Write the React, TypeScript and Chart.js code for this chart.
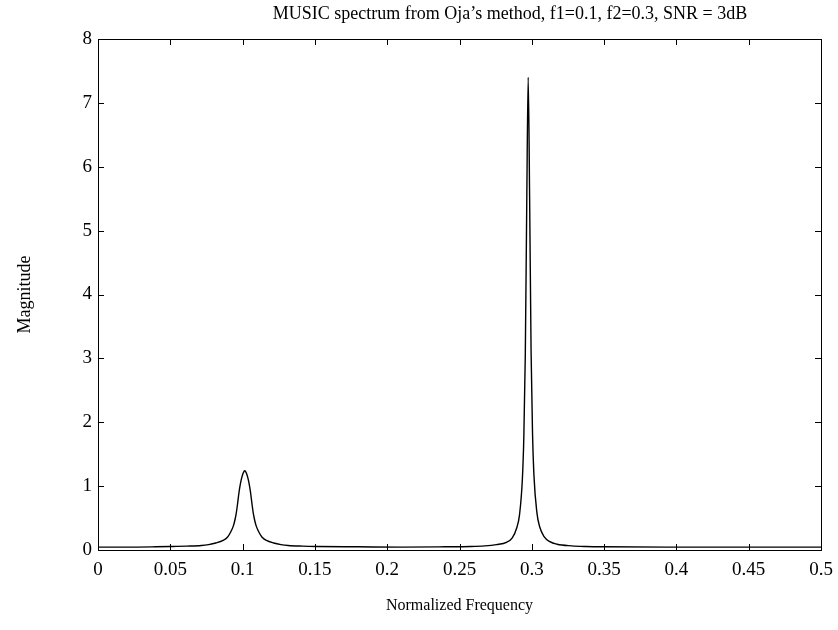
import React, { useEffect, useRef } from "react";
import { Chart, registerables } from "chart.js";

Chart.register(...registerables);

const TITLE = "MUSIC spectrum from Oja\u2019s method, f1=0.1, f2=0.3, SNR = 3dB";
const X_TITLE = "Normalized Frequency";
const Y_TITLE = "Magnitude";

const freq = [
  0, 0.02, 0.04, 0.0515, 0.0615, 0.0715, 0.0765, 0.0815, 0.0865, 0.0895, 0.0915, 0.0935, 0.0945,
  0.0955, 0.0965, 0.0975, 0.0985, 0.0995, 0.1005, 0.1015, 0.1025, 0.1035, 0.1045, 0.1055, 0.1065,
  0.1075, 0.1085, 0.1095, 0.1115, 0.1135, 0.1165, 0.1215, 0.1265, 0.1315, 0.1415, 0.1515, 0.18,
  0.21, 0.24, 0.2575, 0.2675, 0.2755, 0.2825, 0.2865, 0.2895, 0.2915, 0.2935, 0.2945, 0.2955,
  0.2965, 0.2975, 0.2985, 0.2995, 0.3005, 0.3015, 0.3035, 0.3055, 0.3085, 0.3125, 0.3175, 0.3275,
  0.3375, 0.35, 0.4, 0.45, 0.5,
];
const magnitude = [
  0.045, 0.045, 0.05, 0.055, 0.06, 0.07, 0.085, 0.11, 0.15, 0.2, 0.27, 0.37, 0.45,
  0.56, 0.72, 0.9, 1.04, 1.14, 1.21, 1.24, 1.21, 1.14, 1.04, 0.9, 0.72,
  0.56, 0.45, 0.37, 0.27, 0.2, 0.15, 0.11, 0.085, 0.07, 0.06, 0.055, 0.05,
  0.045, 0.05, 0.055, 0.065, 0.085, 0.12, 0.19, 0.34, 0.55, 1.12, 1.78, 3.05,
  5.4, 7.4, 5.5, 3.12, 1.83, 1.16, 0.59, 0.36, 0.21, 0.13, 0.09, 0.065,
  0.055, 0.05, 0.045, 0.045, 0.045,
];

const FONT = "'Liberation Serif', 'Times New Roman', serif";

const framePlugin = {
  id: "frame",
  afterDraw(chart: any) {
    const { ctx, chartArea } = chart;
    const { left, right, top, bottom } = chartArea;
    const xs = chart.scales.x;
    const ys = chart.scales.y;
    const len = 6;
    ctx.save();
    ctx.strokeStyle = "#000";
    ctx.lineWidth = 1;
    ctx.strokeRect(left + 0.5, top + 0.5, right - left, bottom - top);
    ctx.beginPath();
    xs.ticks.forEach((t: any) => {
      const px = Math.round(xs.getPixelForValue(t.value)) + 0.5;
      ctx.moveTo(px, bottom);
      ctx.lineTo(px, bottom - len);
      ctx.moveTo(px, top);
      ctx.lineTo(px, top + len);
    });
    ys.ticks.forEach((t: any) => {
      const py = Math.round(ys.getPixelForValue(t.value)) + 0.5;
      ctx.moveTo(left, py);
      ctx.lineTo(left + len, py);
      ctx.moveTo(right, py);
      ctx.lineTo(right - len, py);
    });
    ctx.stroke();
    // title
    ctx.fillStyle = "#000";
    ctx.font = `18px ${FONT}`;
    ctx.textAlign = "center";
    ctx.textBaseline = "middle";
    ctx.fillText(TITLE, 510, 14);
    ctx.restore();
  },
};

export default function App() {
  const ref = useRef<HTMLCanvasElement>(null);
  useEffect(() => {
    const points = freq.map((f, i) => ({ x: f, y: magnitude[i] }));
    const chart = new Chart(ref.current!, {
      type: "line",
      data: {
        datasets: [
          {
            data: points,
            borderColor: "#000",
            borderWidth: 1.4,
            pointRadius: 0,
            tension: 0.3,
            cubicInterpolationMode: "monotone",
            fill: false,
          },
        ],
      },
      options: {
        responsive: false,
        animation: false,
        layout: { padding: { top: 39, right: 17, left: 0, bottom: 0 } },
        plugins: { legend: { display: false }, tooltip: { enabled: false }, title: { display: false } },
        scales: {
          x: {
            type: "linear",
            min: 0,
            max: 0.5,
            afterFit: (s: any) => {
              s.height = 80;
              s.paddingRight = 0;
              s.paddingLeft = 0;
            },
            ticks: {
              stepSize: 0.05,
              color: "#000",
              padding: 9,
              maxRotation: 0,
              font: { family: FONT, size: 19 },
              callback: (v: any) => String(Number(Number(v).toFixed(2))),
            },
            grid: { display: false, drawTicks: false },
            border: { display: false },
            title: {
              display: true,
              text: X_TITLE,
              color: "#000",
              font: { family: FONT, size: 16 },
              padding: { top: 0, bottom: 15 },
            },
          },
          y: {
            min: 0,
            max: 8,
            afterFit: (s: any) => {
              s.width = 98;
              s.paddingTop = 0;
              s.paddingBottom = 0;
            },
            ticks: {
              stepSize: 1,
              color: "#000",
              padding: 6,
              font: { family: FONT, size: 19 },
            },
            grid: { display: false, drawTicks: false },
            border: { display: false },
            title: {
              display: true,
              text: Y_TITLE,
              color: "#000",
              font: { family: FONT, size: 18 },
              padding: { top: 14, bottom: 0 },
            },
          },
        },
      },
      plugins: [framePlugin],
    });
    return () => chart.destroy();
  }, []);
  return (
    <div style={{ position: "absolute", left: 0, top: 0, width: 838, height: 630, background: "#fff" }}>
      <canvas ref={ref} width={838} height={630} style={{ display: "block" }} />
    </div>
  );
}
